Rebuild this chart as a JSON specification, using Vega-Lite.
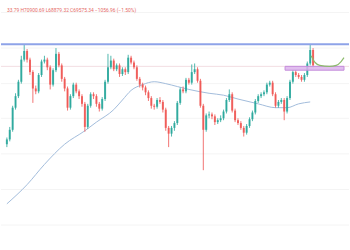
{
  "$schema": "https://vega.github.io/schema/vega-lite/v6.json",
  "width": 350,
  "height": 250,
  "padding": 0,
  "autosize": {"type": "fit", "contains": "padding"},
  "background": "#ffffff",
  "config": {"view": {"stroke": null}},
  "datasets": {
    "candles": [
      {"i":0,"o":70500,"c":70550,"h":70570,"l":70470},
      {"i":1,"o":70550,"c":70650,"h":70680,"l":70530},
      {"i":2,"o":70650,"c":70880,"h":70900,"l":70630},
      {"i":3,"o":70880,"c":71000,"h":71030,"l":70860},
      {"i":4,"o":71000,"c":71150,"h":71170,"l":70980},
      {"i":5,"o":71150,"c":71380,"h":71420,"l":71130},
      {"i":6,"o":71380,"c":71470,"h":71540,"l":71360},
      {"i":7,"o":71470,"c":71380,"h":71490,"l":71350},
      {"i":8,"o":71380,"c":71250,"h":71400,"l":71220},
      {"i":9,"o":71250,"c":71080,"h":71270,"l":70930},
      {"i":10,"o":71080,"c":71050,"h":71110,"l":71020},
      {"i":11,"o":71050,"c":71220,"h":71240,"l":71030},
      {"i":12,"o":71220,"c":71360,"h":71380,"l":71200},
      {"i":13,"o":71360,"c":71380,"h":71420,"l":71340},
      {"i":14,"o":71380,"c":71300,"h":71400,"l":71270},
      {"i":15,"o":71300,"c":71120,"h":71320,"l":71070},
      {"i":16,"o":71120,"c":71270,"h":71290,"l":71100},
      {"i":17,"o":71270,"c":71440,"h":71500,"l":71250},
      {"i":18,"o":71440,"c":71320,"h":71460,"l":71300},
      {"i":19,"o":71320,"c":71180,"h":71340,"l":71150},
      {"i":20,"o":71180,"c":71080,"h":71200,"l":71050},
      {"i":21,"o":71080,"c":70880,"h":71100,"l":70850},
      {"i":22,"o":70880,"c":71000,"h":71020,"l":70860},
      {"i":23,"o":71000,"c":71120,"h":71140,"l":70980},
      {"i":24,"o":71120,"c":71050,"h":71140,"l":71030},
      {"i":25,"o":71050,"c":71000,"h":71070,"l":70970},
      {"i":26,"o":71000,"c":70920,"h":71020,"l":70890},
      {"i":27,"o":70920,"c":70680,"h":70940,"l":70630},
      {"i":28,"o":70680,"c":70900,"h":70920,"l":70660},
      {"i":29,"o":70900,"c":71020,"h":71040,"l":70880},
      {"i":30,"o":71020,"c":71000,"h":71040,"l":70970},
      {"i":31,"o":71000,"c":70920,"h":71020,"l":70890},
      {"i":32,"o":70920,"c":70870,"h":70940,"l":70840},
      {"i":33,"o":70870,"c":70970,"h":70990,"l":70850},
      {"i":34,"o":70970,"c":71150,"h":71170,"l":70950},
      {"i":35,"o":71150,"c":71300,"h":71440,"l":71130},
      {"i":36,"o":71300,"c":71370,"h":71420,"l":71280},
      {"i":37,"o":71370,"c":71280,"h":71390,"l":71260},
      {"i":38,"o":71280,"c":71320,"h":71340,"l":71260},
      {"i":39,"o":71320,"c":71230,"h":71340,"l":71200},
      {"i":40,"o":71230,"c":71280,"h":71300,"l":71210},
      {"i":41,"o":71280,"c":71250,"h":71300,"l":71220},
      {"i":42,"o":71250,"c":71400,"h":71430,"l":71230},
      {"i":43,"o":71400,"c":71350,"h":71420,"l":71330},
      {"i":44,"o":71350,"c":71300,"h":71370,"l":71280},
      {"i":45,"o":71300,"c":71180,"h":71320,"l":71160},
      {"i":46,"o":71180,"c":71120,"h":71200,"l":71090},
      {"i":47,"o":71120,"c":71090,"h":71140,"l":71060},
      {"i":48,"o":71090,"c":71040,"h":71110,"l":71010},
      {"i":49,"o":71040,"c":70980,"h":71060,"l":70950},
      {"i":50,"o":70980,"c":70900,"h":71000,"l":70870},
      {"i":51,"o":70900,"c":70890,"h":70920,"l":70860},
      {"i":52,"o":70890,"c":70960,"h":70980,"l":70870},
      {"i":53,"o":70960,"c":70940,"h":70990,"l":70920},
      {"i":54,"o":70940,"c":70860,"h":70960,"l":70830},
      {"i":55,"o":70860,"c":70670,"h":70880,"l":70640},
      {"i":56,"o":70670,"c":70610,"h":70690,"l":70470},
      {"i":57,"o":70610,"c":70670,"h":70690,"l":70580},
      {"i":58,"o":70670,"c":70720,"h":70740,"l":70640},
      {"i":59,"o":70720,"c":70930,"h":70950,"l":70700},
      {"i":60,"o":70930,"c":71070,"h":71090,"l":70910},
      {"i":61,"o":71070,"c":71050,"h":71100,"l":71030},
      {"i":62,"o":71050,"c":71170,"h":71190,"l":71030},
      {"i":63,"o":71170,"c":71140,"h":71190,"l":71120},
      {"i":64,"o":71140,"c":71250,"h":71330,"l":71120},
      {"i":65,"o":71250,"c":71280,"h":71340,"l":71230},
      {"i":66,"o":71280,"c":71160,"h":71300,"l":71140},
      {"i":67,"o":71160,"c":70900,"h":71180,"l":70880},
      {"i":68,"o":70900,"c":70650,"h":70920,"l":70230},
      {"i":69,"o":70650,"c":70800,"h":70820,"l":70630},
      {"i":70,"o":70800,"c":70810,"h":70840,"l":70770},
      {"i":71,"o":70810,"c":70790,"h":70830,"l":70760},
      {"i":72,"o":70790,"c":70730,"h":70810,"l":70700},
      {"i":73,"o":70730,"c":70750,"h":70770,"l":70710},
      {"i":74,"o":70750,"c":70770,"h":70800,"l":70730},
      {"i":75,"o":70770,"c":70840,"h":70860,"l":70750},
      {"i":76,"o":70840,"c":70960,"h":70980,"l":70820},
      {"i":77,"o":70960,"c":71020,"h":71070,"l":70940},
      {"i":78,"o":71020,"c":70850,"h":71040,"l":70830},
      {"i":79,"o":70850,"c":70750,"h":70870,"l":70730},
      {"i":80,"o":70750,"c":70720,"h":70770,"l":70700},
      {"i":81,"o":70720,"c":70670,"h":70740,"l":70650},
      {"i":82,"o":70670,"c":70620,"h":70690,"l":70580},
      {"i":83,"o":70620,"c":70690,"h":70710,"l":70600},
      {"i":84,"o":70690,"c":70760,"h":70780,"l":70670},
      {"i":85,"o":70760,"c":70830,"h":70850,"l":70740},
      {"i":86,"o":70830,"c":70950,"h":70970,"l":70810},
      {"i":87,"o":70950,"c":71000,"h":71020,"l":70930},
      {"i":88,"o":71000,"c":71020,"h":71040,"l":70980},
      {"i":89,"o":71020,"c":71040,"h":71060,"l":71000},
      {"i":90,"o":71040,"c":71120,"h":71140,"l":71020},
      {"i":91,"o":71120,"c":71140,"h":71160,"l":71100},
      {"i":92,"o":71140,"c":71020,"h":71160,"l":71000},
      {"i":93,"o":71020,"c":70900,"h":71040,"l":70880},
      {"i":94,"o":70900,"c":70940,"h":70960,"l":70880},
      {"i":95,"o":70940,"c":70960,"h":70980,"l":70920},
      {"i":96,"o":70960,"c":70840,"h":70980,"l":70750},
      {"i":97,"o":70840,"c":70980,"h":71000,"l":70820},
      {"i":98,"o":70980,"c":71150,"h":71170,"l":70960},
      {"i":99,"o":71150,"c":71250,"h":71270,"l":71130},
      {"i":100,"o":71250,"c":71220,"h":71270,"l":71200},
      {"i":101,"o":71220,"c":71200,"h":71240,"l":71180},
      {"i":102,"o":71200,"c":71170,"h":71220,"l":71150},
      {"i":103,"o":71170,"c":71220,"h":71240,"l":71150},
      {"i":104,"o":71220,"c":71340,"h":71360,"l":71200},
      {"i":105,"o":71340,"c":71480,"h":71540,"l":71320},
      {"i":106,"o":71480,"c":71320,"h":71500,"l":71300}
    ],
    "ma": [
      {"i":0,"p":69880},{"i":7,"p":70080},{"i":13,"p":70290},{"i":20,"p":70500},
      {"i":27,"p":70640},{"i":31,"p":70730},{"i":37,"p":70860},{"i":40,"p":70960},
      {"i":43,"p":71060},{"i":47,"p":71120},{"i":51,"p":71150},{"i":55,"p":71130},
      {"i":59,"p":71100},{"i":63,"p":71070},{"i":70,"p":71030},{"i":75,"p":71010},
      {"i":80,"p":70970},{"i":87,"p":70920},{"i":93,"p":70880},{"i":97,"p":70880},
      {"i":101,"p":70920},{"i":105,"p":70940}
    ],
    "projection": [
      {"i":105.3,"p":71420},{"i":106.7,"p":71350},{"i":108.3,"p":71320},{"i":111.7,"p":71310},
      {"i":114,"p":71320},{"i":115.7,"p":71360},{"i":116.7,"p":71400}
    ],
    "zone": [{"i0":96.3,"i1":116.7,"p0":71310,"p1":71270}],
    "levels": [{"p":71540,"kind":"resistance"}],
    "faint": [{"p":71310}],
    "grid": [{"p":71870},{"p":71500},{"p":71130},{"p":70770},{"p":70400},{"p":70030},{"p":69660}],
    "header": [{"i":0.05,"p":71890,"label":"33.79 H70900.69 L68879.32 C69575.34 −1056.96 (−1.50%)"}]
  },
  "layer": [
    {
      "data": {"name": "grid"},
      "mark": {"type": "rule", "color": "#f4f4f4", "strokeWidth": 1},
      "encoding": {"y": {"field": "p", "type": "quantitative", "scale": {"domain": [69500, 72000]}, "axis": null}}
    },
    {
      "data": {"name": "faint"},
      "mark": {"type": "rule", "color": "#f3dde2", "strokeWidth": 1},
      "encoding": {"y": {"field": "p", "type": "quantitative"}}
    },
    {
      "data": {"name": "ma"},
      "mark": {"type": "line", "color": "#a3bddc", "strokeWidth": 1, "interpolate": "monotone"},
      "encoding": {
        "x": {"field": "i", "type": "quantitative", "scale": {"domain": [-0.3, 116.7], "nice": false, "zero": false}, "axis": null},
        "y": {"field": "p", "type": "quantitative"}
      }
    },
    {
      "data": {"name": "candles"},
      "mark": {"type": "rule", "strokeWidth": 1, "opacity": 0.8},
      "encoding": {
        "x": {"field": "i", "type": "quantitative"},
        "y": {"field": "l", "type": "quantitative"},
        "y2": {"field": "h"},
        "color": {"condition": {"test": "datum.c >= datum.o", "value": "#26a69a"}, "value": "#ef5350"}
      }
    },
    {
      "data": {"name": "candles"},
      "mark": {"type": "bar", "size": 2, "opacity": 0.85},
      "encoding": {
        "x": {"field": "i", "type": "quantitative"},
        "y": {"field": "o", "type": "quantitative"},
        "y2": {"field": "c"},
        "color": {"condition": {"test": "datum.c >= datum.o", "value": "#26a69a"}, "value": "#ef5350"}
      }
    },
    {
      "data": {"name": "zone"},
      "mark": {"type": "rect", "fill": "#dcb3ec", "fillOpacity": 0.85, "stroke": "#c48ddb", "strokeWidth": 1},
      "encoding": {
        "x": {"field": "i0", "type": "quantitative"},
        "x2": {"field": "i1"},
        "y": {"field": "p0", "type": "quantitative"},
        "y2": {"field": "p1"}
      }
    },
    {
      "data": {"name": "projection"},
      "mark": {"type": "line", "color": "#8cbb6c", "strokeWidth": 1.2, "interpolate": "monotone"},
      "encoding": {
        "x": {"field": "i", "type": "quantitative"},
        "y": {"field": "p", "type": "quantitative"}
      }
    },
    {
      "data": {"name": "levels"},
      "mark": {"type": "rule", "color": "#8ea3e8", "strokeWidth": 2},
      "encoding": {"y": {"field": "p", "type": "quantitative"}}
    },
    {
      "data": {"name": "header"},
      "mark": {"type": "text", "align": "left", "baseline": "middle", "fontSize": 4.9, "font": "Roboto", "color": "#e56a67"},
      "encoding": {
        "x": {"field": "i", "type": "quantitative"},
        "y": {"field": "p", "type": "quantitative"},
        "text": {"field": "label"}
      }
    }
  ]
}
